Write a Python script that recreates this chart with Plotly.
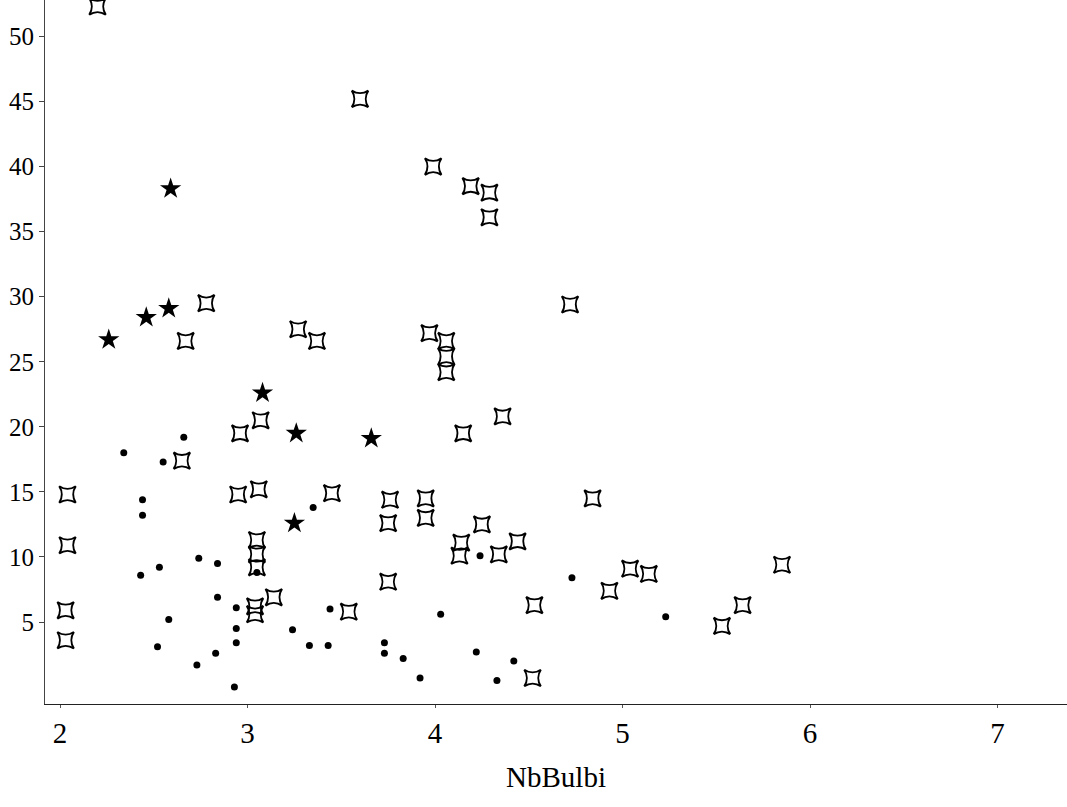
import plotly.graph_objects as go

# Open four-pointed markers
open_x = [2.20, 3.60, 3.99, 4.19, 4.29, 4.29, 4.72, 2.78, 2.67, 3.27, 3.37, 3.97, 4.06, 4.06, 4.06,
          4.36, 4.15, 2.96, 3.07, 2.65, 2.04, 2.04, 2.03, 2.03, 2.95, 3.06, 3.45, 3.76, 3.75, 3.95,
          3.95, 4.25, 4.14, 4.13, 4.34, 4.44, 4.84, 3.05, 3.05, 3.05, 3.04, 3.04, 3.14, 3.54, 3.75,
          4.53, 4.52, 4.93, 5.04, 5.14, 5.53, 5.64, 5.85]
open_y = [52.3, 45.2, 40.0, 38.5, 38.0, 36.1, 29.4, 29.5, 26.6, 27.5, 26.6, 27.2, 26.6, 25.4, 24.2,
          20.8, 19.5, 19.5, 20.5, 17.4, 14.8, 10.9, 5.9, 3.6, 14.8, 15.2, 14.9, 14.4, 12.6, 14.5,
          13.0, 12.5, 11.1, 10.1, 10.2, 11.2, 14.5, 11.3, 10.2, 9.2, 6.2, 5.6, 6.9, 5.8, 8.1,
          6.3, 0.7, 7.4, 9.1, 8.7, 4.7, 6.3, 9.4]

# Filled star markers
star_x = [2.59, 2.46, 2.58, 2.26, 3.08, 3.26, 3.25, 3.66]
star_y = [38.3, 28.4, 29.1, 26.7, 22.6, 19.5, 12.6, 19.1]

# Small dots
dot_x = [2.34, 2.66, 2.55, 2.44, 2.44, 2.43, 2.53, 2.74, 2.84, 2.58, 2.52, 2.84, 2.94, 2.94, 2.94,
         2.83, 2.73, 2.93, 3.05, 3.35, 3.44, 3.24, 3.33, 3.43, 4.24, 4.03, 3.73, 3.73, 3.83, 3.92,
         4.22, 4.42, 4.33, 4.73, 5.23]
dot_y = [18.0, 19.2, 17.3, 14.4, 13.2, 8.6, 9.2, 9.9, 9.5, 5.2, 3.1, 6.9, 6.1, 4.5, 3.4,
         2.6, 1.7, 0.0, 8.8, 13.8, 6.0, 4.4, 3.2, 3.2, 10.1, 5.6, 3.4, 2.6, 2.2, 0.7,
         2.7, 2.0, 0.5, 8.4, 5.4]

x_ticks = [2, 3, 4, 5, 6, 7]
y_ticks = [5, 10, 15, 20, 25, 30, 35, 40, 45, 50]
x_title = "NbBulbi"

FONT = "Liberation Serif, Times New Roman, serif"

fig = go.Figure()
fig.add_trace(go.Scatter(
    x=open_x, y=open_y, mode="markers",
    marker=dict(symbol="star-square-open", size=15, color="black", line=dict(width=2, color="black")),
    showlegend=False))
fig.add_trace(go.Scatter(
    x=star_x, y=star_y, mode="markers",
    marker=dict(symbol="star", size=16, color="black", line=dict(width=0)),
    showlegend=False))
fig.add_trace(go.Scatter(
    x=dot_x, y=dot_y, mode="markers",
    marker=dict(symbol="circle", size=7, color="black", line=dict(width=0)),
    showlegend=False))

fig.update_layout(
    width=1067, height=807,
    margin=dict(l=45, r=0, t=0, b=103),
    plot_bgcolor="white", paper_bgcolor="white",
    font=dict(family=FONT, color="black", size=24),
    xaxis=dict(range=[1.92, 7.37], tickvals=x_ticks, ticktext=[str(v) for v in x_ticks],
               showgrid=False, zeroline=False, showline=True, linecolor="#222", linewidth=1,
               ticks="outside", ticklen=3, tickcolor="#555",
               tickfont=dict(size=29, family=FONT),
               title=dict(text=x_title, font=dict(size=29, family=FONT), standoff=18)),
    yaxis=dict(range=[-1.3, 52.8], tickvals=y_ticks, ticktext=[str(v) for v in y_ticks],
               showgrid=False, zeroline=False, showline=True, linecolor="#444", linewidth=1,
               ticks="outside", ticklen=5, tickcolor="#444", ticklabelstandoff=0,
               tickfont=dict(size=25, family=FONT)),
)

fig.write_html("out.html")
